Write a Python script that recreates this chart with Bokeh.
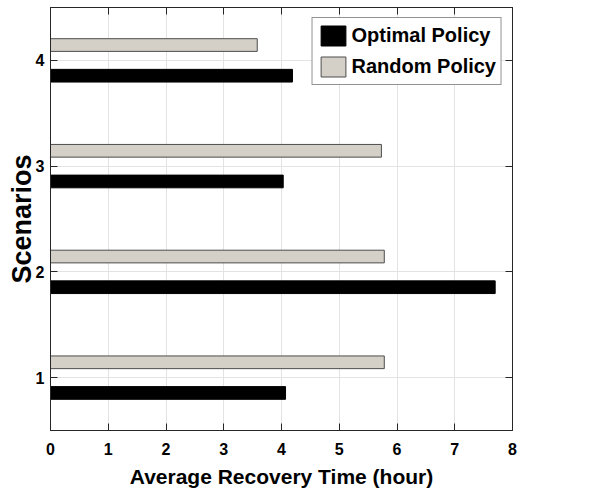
from bokeh.plotting import figure
from bokeh.models import (LinearAxis, FixedTicker, Range1d, Legend, LegendItem,
                          ColumnDataSource, CustomJSTickFormatter)
from bokeh.transform import dodge
from bokeh.embed import file_html
from bokeh.resources import INLINE

scenarios = [1, 2, 3, 4]
optimal_policy = [4.07, 7.70, 4.03, 4.19]
random_policy = [5.78, 5.78, 5.73, 3.58]
x_ticks = [0, 1, 2, 3, 4, 5, 6, 7, 8]
y_ticks = [1, 2, 3, 4]
series_names = ["Optimal Policy", "Random Policy"]

FONT = "Liberation Sans"

src = ColumnDataSource(dict(scenario=scenarios, optimal=optimal_policy, random=random_policy))

p = figure(frame_width=462, frame_height=423, x_range=Range1d(0, 8), y_range=Range1d(0.5, 4.5),
           output_backend="svg", toolbar_location=None,
           min_border_left=50, min_border_right=8, min_border_top=7, min_border_bottom=57)

r1 = p.hbar(y=dodge("scenario", -0.145), right="optimal", left=0, height=0.12,
            fill_color="black", line_color="black", line_width=1, source=src)
r2 = p.hbar(y=dodge("scenario", 0.145), right="random", left=0, height=0.12,
            fill_color="#d4d0c8", line_color="#4d4d4d", line_width=1, source=src)

p.xaxis.ticker = FixedTicker(ticks=x_ticks)
p.yaxis.ticker = FixedTicker(ticks=y_ticks)
for ax in [p.xaxis[0], p.yaxis[0]]:
    ax.major_tick_in = 7
    ax.major_tick_out = 0
    ax.minor_tick_line_color = None
    ax.axis_line_color = "#262626"
    ax.major_tick_line_color = "#262626"
    ax.major_label_text_font = FONT
    ax.major_label_text_font_style = "bold"
    ax.major_label_text_font_size = "16px"
    ax.major_label_text_color = "black"
    ax.axis_label_text_font = FONT
    ax.axis_label_text_font_style = "bold"
    ax.axis_label_text_color = "black"

p.xaxis.axis_label = "Average Recovery Time (hour)"
p.yaxis.axis_label = "Scenarios"
p.xaxis.axis_label_text_font_size = "21px"
p.yaxis.axis_label_text_font_size = "27px"
p.xaxis.major_label_standoff = 12
p.xaxis.axis_label_standoff = 7
p.yaxis.major_label_standoff = 6
p.yaxis.axis_label_standoff = -4
p.yaxis.major_label_orientation = "horizontal"

blank = CustomJSTickFormatter(code="return '';")
top = LinearAxis(ticker=FixedTicker(ticks=x_ticks), major_tick_in=7, major_tick_out=0,
                 minor_tick_line_color=None, formatter=blank,
                 major_label_standoff=0, axis_line_color="#262626",
                 major_tick_line_color="#262626")
right = LinearAxis(ticker=FixedTicker(ticks=y_ticks), major_tick_in=7, major_tick_out=0,
                   minor_tick_line_color=None, formatter=blank,
                   major_label_standoff=0, axis_line_color="#262626",
                   major_tick_line_color="#262626")
p.add_layout(top, "above")
p.add_layout(right, "right")

p.xgrid.ticker = FixedTicker(ticks=x_ticks)
p.ygrid.ticker = FixedTicker(ticks=y_ticks)
p.grid.grid_line_color = "#e3e3e3"
p.outline_line_color = "#262626"

legend = Legend(items=[LegendItem(label=series_names[0], renderers=[r1]),
                       LegendItem(label=series_names[1], renderers=[r2])],
                location="top_right")
legend.label_text_font = FONT
legend.label_text_font_style = "bold"
legend.label_text_font_size = "20px"
legend.label_text_color = "black"
legend.glyph_width = 31
legend.glyph_height = 25
legend.label_height = 25
legend.label_standoff = 3
legend.spacing = 6
legend.padding = 5
legend.margin = 10
legend.border_line_color = "#262626"
legend.border_line_width = 1
legend.background_fill_color = "white"
legend.background_fill_alpha = 1
p.add_layout(legend)

p.background_fill_color = "white"
p.border_fill_color = "white"

open("out.html", "w").write(file_html(p, INLINE))
